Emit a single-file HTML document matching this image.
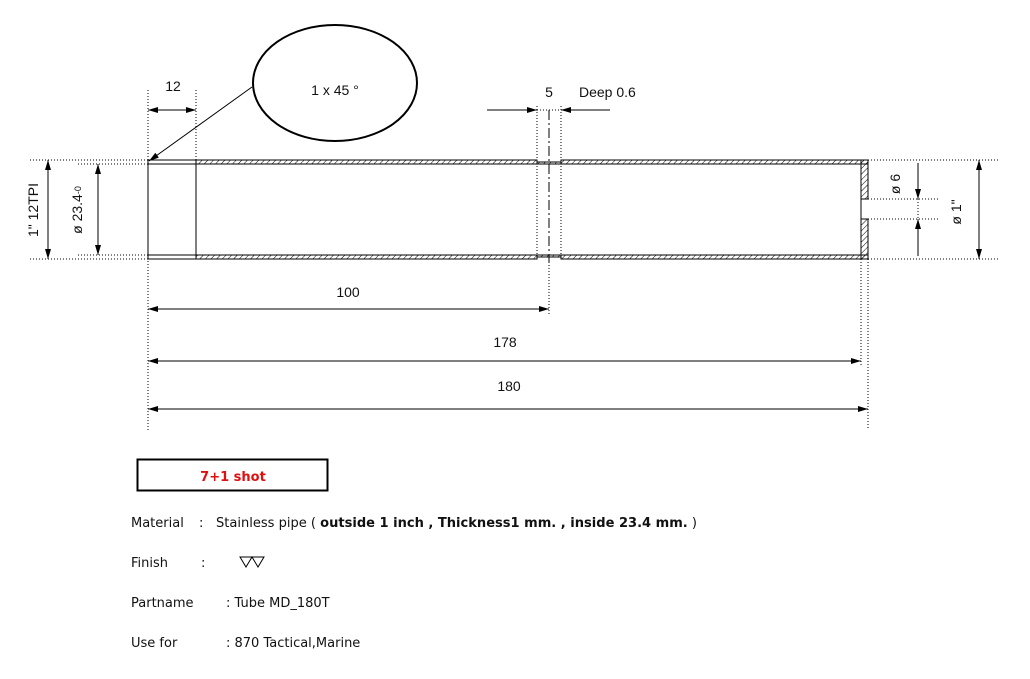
<!DOCTYPE html>
<html><head><meta charset="utf-8"><style>
html,body{margin:0;padding:0;background:#fff;}
svg{display:block;}
text{font-family:"Liberation Sans",sans-serif;font-size:14px;fill:#111;}
text.b{font-family:"DejaVu Sans",sans-serif;font-size:13px;}
</style></head><body>
<svg width="1030" height="679" viewBox="0 0 1030 679" xmlns="http://www.w3.org/2000/svg">
<defs>
<pattern id="h" width="4" height="4" patternUnits="userSpaceOnUse" patternTransform="rotate(45)">
<line x1="0" y1="0" x2="0" y2="4" stroke="#000" stroke-width="1"/>
</pattern>
<marker id="a" markerWidth="10" markerHeight="8" refX="10" refY="4" orient="auto-start-reverse" markerUnits="userSpaceOnUse">
<path d="M0,1 L10,4 L0,7 Z" fill="#000"/>
</marker>
</defs>
<g stroke="#000" stroke-width="1" fill="none">
<rect x="196" y="160" width="341" height="4" fill="url(#h)"/>
<rect x="561" y="160" width="307" height="4" fill="url(#h)"/>
<rect x="196" y="255" width="341" height="4" fill="url(#h)"/>
<rect x="561" y="255" width="307" height="4" fill="url(#h)"/>
<rect x="537" y="162" width="24" height="2" fill="url(#h)"/>
<rect x="537" y="255" width="24" height="2" fill="url(#h)"/>
<rect x="861" y="160" width="7" height="39" fill="url(#h)"/>
<rect x="861" y="219" width="7" height="40" fill="url(#h)"/>
<rect x="148" y="160" width="48" height="99"/>
<line x1="148" y1="164" x2="196" y2="164"/>
<line x1="148" y1="255" x2="196" y2="255"/>
<line x1="861" y1="164" x2="861" y2="255"/>
<line x1="537" y1="160" x2="537" y2="162"/>
<line x1="561" y1="160" x2="561" y2="162"/>
</g>
<g stroke="#000" stroke-width="1" stroke-dasharray="1,2" fill="none">
<line x1="30" y1="160" x2="148" y2="160"/>
<line x1="30" y1="259" x2="148" y2="259"/>
<line x1="78" y1="164" x2="148" y2="164"/>
<line x1="78" y1="255" x2="148" y2="255"/>
<line x1="148" y1="90" x2="148" y2="430"/>
<line x1="196" y1="90" x2="196" y2="160"/>
<line x1="537" y1="106" x2="537" y2="259"/>
<line x1="561" y1="106" x2="561" y2="259"/>
<line x1="537" y1="110" x2="561" y2="110"/>
<line x1="549" y1="259" x2="549" y2="315"/>
<line x1="868" y1="160" x2="1000" y2="160"/>
<line x1="868" y1="259" x2="1000" y2="259"/>
<line x1="868" y1="199" x2="938" y2="199"/>
<line x1="868" y1="219" x2="938" y2="219"/>
<line x1="918" y1="199" x2="918" y2="219"/>
<line x1="861" y1="259" x2="861" y2="365"/>
<line x1="868" y1="259" x2="868" y2="430"/>
</g>
<line x1="549" y1="110" x2="549" y2="262" stroke="#000" stroke-dasharray="10,3,2,3"/>
<g stroke="#000" stroke-width="1" fill="none">
<line x1="148" y1="110" x2="196" y2="110" marker-start="url(#a)" marker-end="url(#a)"/>
<line x1="48" y1="160" x2="48" y2="259" marker-start="url(#a)" marker-end="url(#a)"/>
<line x1="98" y1="164" x2="98" y2="255" marker-start="url(#a)" marker-end="url(#a)"/>
<line x1="487" y1="110" x2="537" y2="110" marker-end="url(#a)"/>
<line x1="610" y1="110" x2="561" y2="110" marker-end="url(#a)"/>
<line x1="918" y1="163" x2="918" y2="199" marker-end="url(#a)"/>
<line x1="918" y1="256" x2="918" y2="219" marker-end="url(#a)"/>
<line x1="979" y1="160" x2="979" y2="259" marker-start="url(#a)" marker-end="url(#a)"/>
<line x1="148" y1="309" x2="549" y2="309" marker-start="url(#a)" marker-end="url(#a)"/>
<line x1="148" y1="361" x2="861" y2="361" marker-start="url(#a)" marker-end="url(#a)"/>
<line x1="148" y1="409" x2="868" y2="409" marker-start="url(#a)" marker-end="url(#a)"/>
<line x1="252" y1="87" x2="149" y2="161" marker-end="url(#a)"/>
<ellipse cx="335" cy="83" rx="82" ry="58" stroke-width="2"/>
<rect x="137.5" y="459.5" width="190" height="31" stroke-width="2"/>
<path d="M240,557 L264,557 L258,567 L252,557 L246,567 Z"/>
</g>
<text x="173" y="91" text-anchor="middle">12</text>
<text x="335" y="95" text-anchor="middle">1 x 45 °</text>
<text x="549" y="97" text-anchor="middle">5</text>
<text x="579" y="97">Deep 0.6</text>
<text transform="translate(38,210) rotate(-90)" text-anchor="middle">1" 12TPI</text>
<text transform="translate(82,210) rotate(-90)" text-anchor="middle">ø 23.4<tspan font-size="9" dy="-1">-0</tspan></text>
<text transform="translate(900,184) rotate(-90)" text-anchor="middle">ø 6</text>
<text transform="translate(961,212) rotate(-90)" text-anchor="middle">ø 1"</text>
<text x="348" y="297" text-anchor="middle">100</text>
<text x="505" y="347" text-anchor="middle">178</text>
<text x="509" y="391" text-anchor="middle">180</text>
<text class="b" x="233" y="481" text-anchor="middle" font-weight="bold" style="fill:#e01010">7+1 shot</text>
<text class="b" x="131" y="527">Material</text>
<text class="b" x="199" y="527">:</text>
<text class="b" x="216" y="527" textLength="481" lengthAdjust="spacingAndGlyphs">Stainless pipe ( <tspan font-weight="bold">outside 1 inch , Thickness1 mm. , inside 23.4 mm.</tspan> )</text>
<text class="b" x="131" y="567">Finish</text>
<text class="b" x="201" y="567">:</text>
<text class="b" x="131" y="607">Partname</text>
<text class="b" x="226" y="607">: Tube MD_180T</text>
<text class="b" x="131" y="647">Use for</text>
<text class="b" x="226" y="647">: 870 Tactical,Marine</text>
</svg>
</body></html>
